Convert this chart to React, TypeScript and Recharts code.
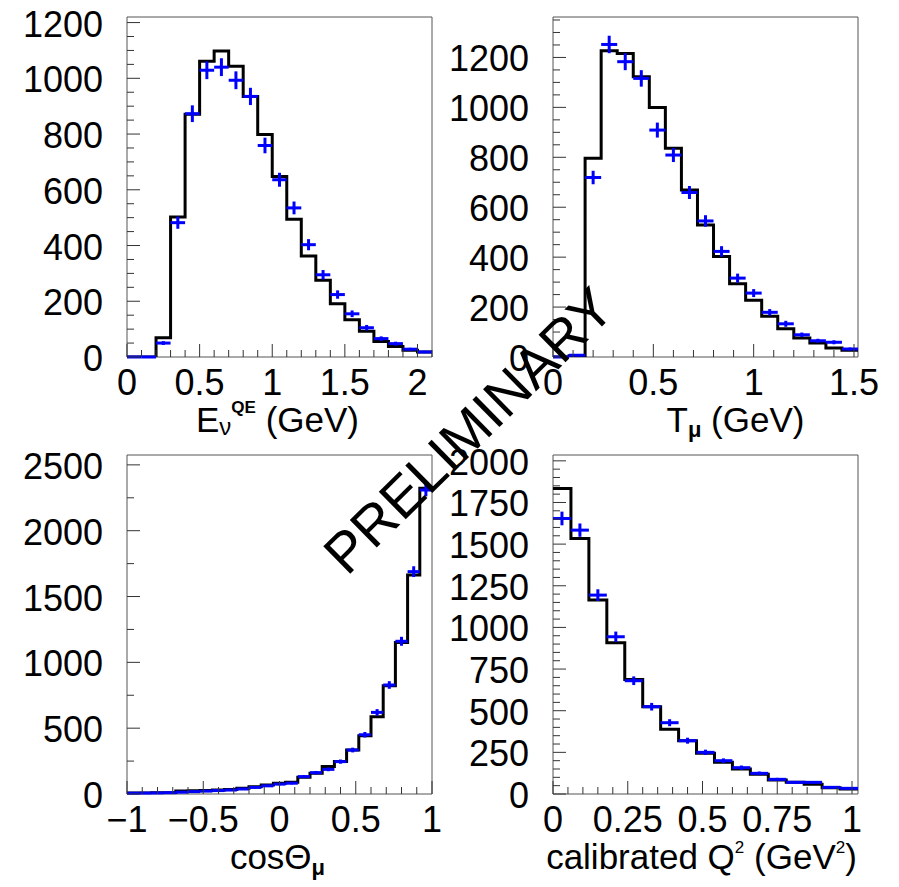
import React from 'react';
import { ComposedChart, Line, Scatter, ErrorBar, XAxis, YAxis, ReferenceArea } from 'recharts';

const FONT = '"Liberation Sans", Arial, Helvetica, sans-serif';
const BLUE = '#0000ff';

// E_nu^QE panel (bins of 0.1 GeV)
const eEdges = [0, 0.1, 0.2, 0.3, 0.4, 0.5, 0.6, 0.7, 0.8, 0.9, 1.0, 1.1, 1.2, 1.3, 1.4, 1.5, 1.6, 1.7, 1.8, 1.9, 2.0, 2.1];
const eMC = [0, 0, 69, 502, 871, 1061, 1098, 1043, 935, 798, 648, 494, 362, 275, 191, 134, 92, 56, 38, 24, 18];
const eData = [0, 0, 50, 482, 873, 1029, 1040, 993, 935, 759, 636, 535, 403, 295, 224, 155, 105, 66, 48, 28, 18];
const eErr = [0, 0, 7, 22, 30, 32, 32, 32, 31, 28, 25, 23, 20, 17, 15, 12, 10, 8, 7, 5, 4];

// T_mu panel (bins of 0.08 GeV)
const tEdges = [0, 0.08, 0.16, 0.24, 0.32, 0.4, 0.48, 0.56, 0.64, 0.72, 0.8, 0.88, 0.96, 1.04, 1.12, 1.2, 1.28, 1.36, 1.44, 1.52];
const tMC = [0, 5, 796, 1227, 1216, 1123, 999, 836, 669, 529, 403, 293, 227, 163, 113, 76, 56, 36, 27];
const tData = [0, 7, 719, 1252, 1183, 1116, 909, 809, 659, 545, 423, 316, 256, 179, 133, 89, 65, 59, 32];
const tErr = [0, 3, 27, 35, 34, 33, 30, 28, 26, 23, 21, 18, 16, 13, 12, 9, 8, 8, 6];

// cos theta_mu panel (bins of 0.08)
const cEdges = [-1, -0.92, -0.84, -0.76, -0.68, -0.6, -0.52, -0.44, -0.36, -0.28, -0.2, -0.12, -0.04, 0.04, 0.12, 0.2, 0.28, 0.36, 0.44, 0.52, 0.6, 0.68, 0.76, 0.84, 0.92, 1];
const cMC = [8, 8, 9, 10, 23, 25, 27, 30, 34, 43, 56, 68, 81, 89, 127, 157, 208, 246, 334, 443, 587, 823, 1150, 1663, 2322];
const cData = [6, 7, 8, 10, 14, 18, 22, 26, 30, 38, 50, 62, 75, 82, 132, 162, 187, 246, 334, 450, 620, 828, 1160, 1689, 2309];
const cErr = [2, 3, 3, 3, 4, 4, 5, 5, 5, 6, 7, 8, 9, 9, 11, 13, 14, 16, 18, 21, 25, 29, 34, 41, 48];

// calibrated Q^2 panel (bins of 0.06 GeV^2)
const qEdges = [0, 0.06, 0.12, 0.18, 0.24, 0.3, 0.36, 0.42, 0.48, 0.54, 0.6, 0.66, 0.72, 0.78, 0.84, 0.9, 0.96, 1.02];
const qMC = [1834, 1534, 1164, 908, 688, 524, 388, 320, 244, 190, 150, 118, 84, 70, 58, 38, 30];
const qData = [1654, 1584, 1194, 944, 680, 524, 428, 320, 250, 200, 158, 124, 88, 70, 70, 40, 34];
const qErr = [41, 40, 35, 31, 26, 23, 21, 18, 16, 14, 13, 11, 9, 8, 8, 6, 6];

// axis labels
const eXMajor = [0, 0.5, 1, 1.5, 2];
const eXLabels = ['0', '0.5', '1', '1.5', '2'];
const tXMajor = [0, 0.5, 1, 1.5];
const tXLabels = ['0', '0.5', '1', '1.5'];
const cXMajor = [-1, -0.5, 0, 0.5, 1];
const cXLabels = ['\u22121', '\u22120.5', '0', '0.5', '1'];
const qXMajor = [0, 0.25, 0.5, 0.75, 1];
const qXLabels = ['0', '0.25', '0.5', '0.75', '1'];

const eYMajor = [0, 200, 400, 600, 800, 1000, 1200];
const tYMajor = [0, 200, 400, 600, 800, 1000, 1200];
const cYMajor = [0, 500, 1000, 1500, 2000, 2500];
const qYMajor = [0, 250, 500, 750, 1000, 1250, 1500, 1750, 2000];

const steps = (from: number, to: number, step: number) => {
  const out: number[] = [];
  for (let v = from; v <= to + 1e-9; v += step) out.push(Math.round(v * 1e6) / 1e6);
  return out;
};

const toOutline = (edges: number[], counts: number[]) => [
  ...counts.map((v, i) => ({ x: edges[i], y: v })),
  { x: edges[edges.length - 1], y: counts[counts.length - 1] },
];

const toPoints = (edges: number[], counts: number[], errs: number[]) =>
  counts.map((v, i) => ({
    x: (edges[i] + edges[i + 1]) / 2,
    y: v,
    ex: (edges[i + 1] - edges[i]) / 2,
    ey: errs[i],
  }));

const findMajor = (majors: number[], v: number) => majors.findIndex((m) => Math.abs(m - v) < 1e-6);

const XTick = (props: any) => {
  const { x, y, payload, majors, labels } = props;
  const idx = findMajor(majors, payload.value);
  return (
    <g>
      <line x1={x} x2={x} y1={y} y2={y - (idx >= 0 ? 13 : 7)} stroke="#333" strokeWidth={1} />
      {idx >= 0 && (
        <text x={x} y={y + 38} textAnchor="middle" fontFamily={FONT} fontSize={36} fill="#000">
          {labels[idx]}
        </text>
      )}
    </g>
  );
};

const YTick = (props: any) => {
  const { x, y, payload, majors } = props;
  const idx = findMajor(majors, payload.value);
  return (
    <g>
      <line x1={x} x2={x + (idx >= 0 ? 13 : 7)} y1={y} y2={y} stroke="#333" strokeWidth={1} />
      {idx >= 0 && (
        <text x={x - 24} y={y + 14} textAnchor="end" fontFamily={FONT} fontSize={36} fill="#000">
          {payload.value}
        </text>
      )}
    </g>
  );
};

const AxisTitle = (props: any) => {
  const { viewBox, dx = 0, children } = props;
  if (!viewBox) return null;
  return (
    <text
      x={viewBox.x + viewBox.width / 2 + dx}
      y={viewBox.y + 75}
      textAnchor="middle"
      fontFamily={FONT}
      fontSize={35}
      fill="#000"
    >
      {children}
    </text>
  );
};

type PanelProps = {
  left: number;
  top: number;
  edges: number[];
  mc: number[];
  data: number[];
  err: number[];
  yMax: number;
  xMajor: number[];
  xLabels: string[];
  xStep: number;
  yMajor: number[];
  yStep: number;
  plotHeight: number;
  title: React.ReactElement;
};

const Panel = ({ left, top, edges, mc, data, err, yMax, xMajor, xLabels, xStep, yMajor, yStep, plotHeight, title }: PanelProps) => {
  const xMin = edges[0];
  const xMax = edges[edges.length - 1];
  const xTicks = steps(xMajor[0], xMax, xStep);
  const yTicks = steps(0, yMax, yStep);
  const axisHeight = 100;
  return (
    <div style={{ position: 'absolute', left, top }}>
      <ComposedChart width={475} height={17 + plotHeight + axisHeight} margin={{ top: 17, right: 43, bottom: 0, left: 0 }}>
        <XAxis
          type="number"
          dataKey="x"
          domain={[xMin, xMax]}
          allowDataOverflow
          ticks={xTicks}
          interval={0}
          tickSize={0}
          tickMargin={0}
          tickLine={false}
          axisLine={false}
          height={axisHeight}
          tick={<XTick majors={xMajor} labels={xLabels} />}
          label={title}
        />
        <YAxis
          type="number"
          domain={[0, yMax]}
          allowDataOverflow
          ticks={yTicks}
          interval={0}
          width={127}
          tickSize={0}
          tickMargin={0}
          tickLine={false}
          axisLine={false}
          tick={<YTick majors={yMajor} />}
        />
        <ReferenceArea x1={xMin} x2={xMax} y1={0} y2={yMax} fill="none" stroke="#555" strokeWidth={1} ifOverflow="visible" />
        <Line
          data={toOutline(edges, mc)}
          dataKey="y"
          type="stepAfter"
          stroke="#000"
          strokeWidth={3}
          dot={false}
          activeDot={false}
          isAnimationActive={false}
        />
        <Scatter data={toPoints(edges, data, err)} dataKey="y" fill={BLUE} shape={() => <g />} isAnimationActive={false}>
          <ErrorBar dataKey="ex" direction="x" width={0} stroke={BLUE} strokeWidth={3} isAnimationActive={false} />
          <ErrorBar dataKey="ey" direction="y" width={0} stroke={BLUE} strokeWidth={3} isAnimationActive={false} />
        </Scatter>
      </ComposedChart>
    </div>
  );
};

export default function App() {
  return (
    <div style={{ position: 'absolute', left: 0, top: 0, width: 899, height: 887, background: '#fff', fontFamily: FONT, overflow: 'hidden' }}>
      <Panel
        left={0} top={0} plotHeight={340}
        edges={eEdges} mc={eMC} data={eData} err={eErr} yMax={1220}
        xMajor={eXMajor} xLabels={eXLabels} xStep={0.1} yMajor={eYMajor} yStep={50}
        title={
          <AxisTitle dx={-2}>
            <tspan>E</tspan>
            <tspan fontSize={24} dy={3}>ν</tspan>
            <tspan fontSize={17} fontWeight="bold" dy={-22}>QE</tspan>
            <tspan dy={19}>{'\u00a0(GeV)'}</tspan>
          </AxisTitle>
        }
      />
      <Panel
        left={426} top={0} plotHeight={340}
        edges={tEdges} mc={tMC} data={tData} err={tErr} yMax={1362}
        xMajor={tXMajor} xLabels={tXLabels} xStep={0.1} yMajor={tYMajor} yStep={50}
        title={
          <AxisTitle dx={30}>
            <tspan>T</tspan>
            <tspan fontSize={22} fontWeight="bold" dy={5}>μ</tspan>
            <tspan dy={-5}>{'\u00a0(GeV)'}</tspan>
          </AxisTitle>
        }
      />
      <Panel
        left={0} top={438} plotHeight={339}
        edges={cEdges} mc={cMC} data={cData} err={cErr} yMax={2575}
        xMajor={cXMajor} xLabels={cXLabels} xStep={0.1} yMajor={cYMajor} yStep={250}
        title={
          <AxisTitle dx={-2}>
            <tspan>cosΘ</tspan>
            <tspan fontSize={22} fontWeight="bold" dy={6}>μ</tspan>
          </AxisTitle>
        }
      />
      <Panel
        left={426} top={438} plotHeight={339}
        edges={qEdges} mc={qMC} data={qData} err={qErr} yMax={2035}
        xMajor={qXMajor} xLabels={qXLabels} xStep={0.05} yMajor={qYMajor} yStep={50}
        title={
          <AxisTitle dx={-4}>
            <tspan>calibrated Q</tspan>
            <tspan fontSize={17} dy={-16}>2</tspan>
            <tspan dy={16}>{'\u00a0(GeV'}</tspan>
            <tspan fontSize={17} dy={-16}>2</tspan>
            <tspan dy={16}>)</tspan>
          </AxisTitle>
        }
      />
      <svg width={899} height={887} style={{ position: 'absolute', left: 0, top: 0, pointerEvents: 'none' }}>
        <text
          x={468}
          y={450}
          transform="rotate(-44.5 468 430)"
          textAnchor="middle"
          fontFamily={FONT}
          fontSize={56}
          fill="#000"
        >
          PRELIMINARY
        </text>
      </svg>
    </div>
  );
}
